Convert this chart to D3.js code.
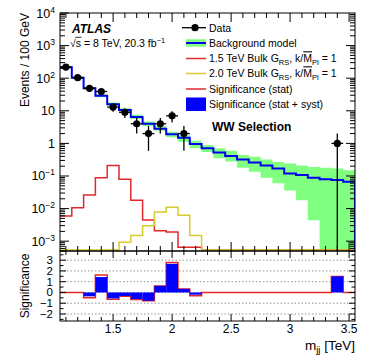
<!DOCTYPE html>
<html>
<head>
<meta charset="utf-8">
<script src="https://cdn.jsdelivr.net/npm/d3@7"></script>
<style>
  body { margin: 0; background: #fff; }
  svg { display: block; font-family: "Liberation Sans", Arial, Helvetica, sans-serif; }
</style>
</head>
<body>
<div id="chart"></div>
<script>
// Bin edges in TeV (100 GeV bins)
const binEdges = [1.05, 1.15, 1.25, 1.35, 1.45, 1.55, 1.65, 1.75, 1.85, 1.95, 2.05, 2.15, 2.25,
  2.35, 2.45, 2.55, 2.65, 2.75, 2.85, 2.95, 3.05, 3.15, 3.25, 3.35, 3.45, 3.55];

// Background model (events / 100 GeV) and its uncertainty band
const bkg = [215, 104, 49, 29, 16, 10.5, 6.5, 4.0, 2.8, 1.9, 1.5, 0.95, 0.71, 0.53, 0.41, 0.32,
  0.26, 0.21, 0.17, 0.12, 0.107, 0.089, 0.079, 0.076, 0.067];
const bkgUp = [235, 114, 54, 32, 18, 12, 7.5, 4.7, 3.42, 2.29, 1.78, 1.2, 0.89, 0.71, 0.59, 0.44,
  0.39, 0.32, 0.27, 0.24, 0.21, 0.19, 0.18, 0.17, 0.15];
const bkgDown = [195, 94, 44, 26, 14.2, 9.3, 5.6, 3.4, 2.45, 1.54, 1.13, 0.71, 0.54, 0.35, 0.28, 0.18,
  0.135, 0.089, 0.060, 0.036, 0.018, 0.0044, 0, 0, 0];

// Signal templates
const sig15 = [0.0059, 0.0107, 0.026, 0.089, 0.21, 0.079, 0.018, 0.0045, 0.0021, 0.0019, 0.00065, 0.00065,
  0, 0, 0, 0, 0, 0, 0, 0, 0, 0, 0, 0, 0];
const sig20 = [0, 0, 0, 0, 0.00055, 0.00093, 0.0015, 0.0030, 0.0078, 0.011, 0.0063, 0.0015,
  0, 0, 0, 0, 0, 0, 0, 0, 0, 0, 0, 0, 0];

// Data points
const dataX = [1.1, 1.2, 1.3, 1.4, 1.5, 1.6, 1.7, 1.8, 1.9, 2.0, 2.1, 3.4];
const dataY = [220, 104, 49, 39, 13, 9, 4, 2, 4, 7, 2, 1];
const dataErr = [14.8, 10.2, 7, 6.2, 3.6, 3, 2, 1.41, 2, 2.65, 1.41, 1];

// Significance per bin
const sigStat = [0, 0, -0.49, 1.62, -0.64, -0.36, -0.66, -0.77, 0.61, 2.78, 0.33, -0.30,
  0, 0, 0, 0, 0, 0, 0, 0, 0, 0, 0, 1.49, 0];
const sigSyst = [0, 0, -0.36, 1.43, -0.55, -0.33, -0.61, -0.77, 0.61, 2.66, 0.33, -0.21,
  0, 0, 0, 0, 0, 0, 0, 0, 0, 0, 0, 1.49, 0];

// Tick labels
const xTicks = [1.5, 2, 2.5, 3, 3.5];
const xTickLabels = ["1.5", "2", "2.5", "3", "3.5"];
const ratioTicks = [-2, -1, 0, 1, 2, 3];
const ratioTickLabels = ["\u22122", "\u22121", "0", "1", "2", "3"];

const width = 374, height = 359;
const left = 60, right = 355;
const mainTop = 13, mainBottom = 251;
const ratioTop = 251, ratioBottom = 321;

const colGreen = "#80ff80", colBlue = "#0000f0", colRed = "#e0282b", colYellow = "#d6cb33";

const svg = d3.select("#chart").append("svg")
  .attr("width", width).attr("height", height);

const x = d3.scaleLinear().domain([1.05, 3.55]).range([left, right]);
const y = d3.scaleLog().domain([5e-4, 1e4]).range([mainBottom, mainTop]);
const r = d3.scaleLinear().domain([-2.65, 3.85]).range([ratioBottom, ratioTop]);

const yc = v => v > 0 ? Math.min(y(v), mainBottom - 1) : mainBottom - 1;
const yb = v => v > 0 ? Math.min(y(v), mainBottom) : mainBottom;

function stepPts(vals) {
  const pts = vals.map((v, i) => [binEdges[i], v]);
  pts.push([binEdges[vals.length], vals[vals.length - 1]]);
  return pts;
}

svg.append("clipPath").attr("id", "clipMain").append("rect")
  .attr("x", left).attr("y", mainTop).attr("width", right - left).attr("height", mainBottom - mainTop);
svg.append("clipPath").attr("id", "clipRatio").append("rect")
  .attr("x", left).attr("y", ratioTop).attr("width", right - left).attr("height", ratioBottom - ratioTop);

const main = svg.append("g").attr("clip-path", "url(#clipMain)");

// Uncertainty band
const bandData = bkg.map((v, i) => [binEdges[i], bkgDown[i], bkgUp[i]]);
bandData.push([3.55, bkgDown[bkgDown.length - 1], bkgUp[bkgUp.length - 1]]);
main.append("path")
  .datum(bandData)
  .attr("fill", colGreen)
  .attr("d", d3.area().x(d => x(d[0])).y0(d => yb(d[1])).y1(d => yb(d[2])).curve(d3.curveStepAfter));

const step = d3.line().x(d => x(d[0])).y(d => yc(d[1])).curve(d3.curveStepAfter);

main.append("path").datum(stepPts(sig15))
  .attr("fill", "none").attr("stroke", colRed).attr("stroke-width", 1.5).attr("d", step);
main.append("path").datum(stepPts(sig20))
  .attr("fill", "none").attr("stroke", colYellow).attr("stroke-width", 1.5).attr("d", step);

const bkgPts = stepPts(bkg);
bkgPts.push([3.55, 0]);
main.append("path").datum(bkgPts)
  .attr("fill", "none").attr("stroke", colBlue).attr("stroke-width", 2).attr("d", step);

// Data with error bars
const pts = main.append("g").selectAll("g").data(dataX).join("g");
pts.append("line")
  .attr("x1", d => x(d)).attr("x2", d => x(d))
  .attr("y1", (d, i) => y(dataY[i] + dataErr[i]))
  .attr("y2", (d, i) => yb(dataY[i] - dataErr[i]))
  .attr("stroke", "#000").attr("stroke-width", 1.3);
pts.append("line")
  .attr("x1", d => x(d - 0.05)).attr("x2", d => x(d + 0.05))
  .attr("y1", (d, i) => y(dataY[i])).attr("y2", (d, i) => y(dataY[i]))
  .attr("stroke", "#000").attr("stroke-width", 1.3);
pts.append("circle")
  .attr("cx", d => x(d)).attr("cy", (d, i) => y(dataY[i]))
  .attr("r", 3.6).attr("fill", "#000");

// Ratio panel
const ratio = svg.append("g").attr("clip-path", "url(#clipRatio)");
ratio.selectAll("line.grid").data(ratioTicks).join("line")
  .attr("x1", left).attr("x2", right)
  .attr("y1", d => r(d)).attr("y2", d => r(d))
  .attr("stroke", "#777").attr("stroke-width", 0.8).attr("stroke-dasharray", "1.5,2");

ratio.append("path").datum(stepPts(sigStat))
  .attr("fill", "none").attr("stroke", colRed).attr("stroke-width", 1.5)
  .attr("d", d3.line().x(d => x(d[0])).y(d => r(d[1])).curve(d3.curveStepAfter));

ratio.selectAll("rect.bar").data(sigSyst).join("rect")
  .attr("x", (d, i) => x(binEdges[i]))
  .attr("width", (d, i) => x(binEdges[i + 1]) - x(binEdges[i]))
  .attr("y", d => Math.min(r(d), r(0)))
  .attr("height", d => Math.abs(r(d) - r(0)))
  .attr("fill", "#0000ff");

// Frames and ticks
function frame(top, bottom) {
  svg.append("rect").attr("x", left).attr("y", top)
    .attr("width", right - left).attr("height", bottom - top)
    .attr("fill", "none").attr("stroke", "#000").attr("stroke-width", 1);
}
frame(mainTop, mainBottom);
frame(ratioTop, ratioBottom);

const axisG = svg.append("g").attr("stroke", "#000").attr("stroke-width", 1);
function xTickMarks(yLine, dir, majLen, minLen) {
  const minors = d3.range(11, 36).map(d => d / 10);
  minors.forEach(t => {
    const isMajor = xTicks.some(m => Math.abs(m - t) < 1e-6);
    const len = isMajor ? majLen : minLen;
    axisG.append("line").attr("x1", x(t)).attr("x2", x(t))
      .attr("y1", yLine).attr("y2", yLine + dir * len);
  });
}
xTickMarks(mainBottom, -1, 9, 5);
xTickMarks(mainTop, 1, 9, 5);
xTickMarks(ratioBottom, -1, 7, 4);
xTickMarks(ratioTop, 1, 7, 4);

// log ticks
for (let e = -4; e <= 3; e++) {
  for (let k = 1; k <= 9; k++) {
    const v = k * Math.pow(10, e);
    if (v < 5e-4 || v > 1e4) continue;
    const len = k === 1 ? 9 : 5;
    axisG.append("line").attr("x1", left).attr("x2", left + len).attr("y1", y(v)).attr("y2", y(v));
    axisG.append("line").attr("x1", right).attr("x2", right - len).attr("y1", y(v)).attr("y2", y(v));
  }
}
axisG.append("line").attr("x1", left).attr("x2", left + 9).attr("y1", y(1e4)).attr("y2", y(1e4));

// ratio y ticks
d3.range(-5, 8).map(d => d / 2).forEach(t => {
  const len = Number.isInteger(t) ? 6 : 3.5;
  if (r(t) < ratioTop || r(t) > ratioBottom) return;
  axisG.append("line").attr("x1", left).attr("x2", left + len).attr("y1", r(t)).attr("y2", r(t));
  axisG.append("line").attr("x1", right).attr("x2", right - len).attr("y1", r(t)).attr("y2", r(t));
});

// Tick labels
const labelG = svg.append("g").attr("fill", "#000");
xTicks.forEach((t, i) => {
  labelG.append("text").attr("x", x(t)).attr("y", 333)
    .attr("text-anchor", "middle").attr("font-size", 12).text(xTickLabels[i]);
});
ratioTicks.forEach((t, i) => {
  labelG.append("text").attr("x", 53).attr("y", r(t) + 4)
    .attr("text-anchor", "end").attr("font-size", 11.5).text(ratioTickLabels[i]);
});
d3.range(-3, 5).forEach(e => {
  const t = labelG.append("text").attr("x", 55).attr("y", y(Math.pow(10, e)) + 4.5)
    .attr("text-anchor", "end").attr("font-size", 12.5);
  if (e === 0) t.text("1");
  else if (e === 1) t.text("10");
  else {
    t.append("tspan").text("10");
    t.append("tspan").attr("font-size", 8.5).attr("dy", -5)
      .text(e < 0 ? "\u2212" + (-e) : String(e));
  }
});

// Axis titles
svg.append("text").attr("transform", "translate(29,13) rotate(-90)")
  .attr("text-anchor", "end").attr("font-size", 12).text("Events / 100 GeV");
svg.append("text").attr("transform", "translate(29,286) rotate(-90)")
  .attr("text-anchor", "middle").attr("font-size", 12).text("Significance");
const xt = svg.append("text").attr("x", 355).attr("y", 350)
  .attr("text-anchor", "end").attr("font-size", 13.5);
xt.append("tspan").text("m");
xt.append("tspan").attr("font-size", 9.5).attr("dy", 3).text("jj");
xt.append("tspan").attr("dy", -3).text(" [TeV]");

// ATLAS label
svg.append("text").attr("x", 72).attr("y", 33)
  .attr("font-size", 12).attr("font-weight", "bold").attr("font-style", "italic").text("ATLAS");
const en = svg.append("text").attr("x", 70).attr("y", 47).attr("font-size", 10.5);
const rad = en.append("tspan").text("\u221A");
const sChar = en.append("tspan").text("s");
en.append("tspan").text(" = 8 TeV, 20.3 fb");
en.append("tspan").attr("font-size", 7.5).attr("dy", -4).text("\u22121");
// radical bar over s
const radW = rad.node().getComputedTextLength();
const sW = sChar.node().getComputedTextLength();
svg.append("line").attr("x1", 70 + radW - 0.5).attr("x2", 70 + radW + sW + 0.5)
  .attr("y1", 37.3).attr("y2", 37.3).attr("stroke", "#000").attr("stroke-width", 0.8);

// Legend
const lx0 = 186, lx1 = 206, ltx = 209;
const leg = svg.append("g");
function legText(yc0, parts) {
  const t = leg.append("text").attr("x", ltx).attr("y", yc0 + 3.8).attr("font-size", 10.5);
  let shift = 0;
  parts.forEach(p => {
    const s = t.append("tspan").text(p.t);
    let want = 0;
    if (p.sub) { s.attr("font-size", 7.5); want = 2.5; }
    if (want !== shift) { s.attr("dy", want - shift); shift = want; }
    if (p.over) s.style("text-decoration", "overline");
  });
}
// Data
leg.append("line").attr("x1", 182).attr("x2", lx1).attr("y1", 27.7).attr("y2", 27.7)
  .attr("stroke", "#000").attr("stroke-width", 1.3);
leg.append("circle").attr("cx", 195).attr("cy", 27.7).attr("r", 3.6).attr("fill", "#000");
legText(27.7, [{ t: "Data" }]);
// Background
leg.append("rect").attr("x", lx0).attr("y", 39.2).attr("width", lx1 - lx0).attr("height", 7.5).attr("fill", colGreen);
leg.append("line").attr("x1", lx0).attr("x2", lx1).attr("y1", 43).attr("y2", 43)
  .attr("stroke", colBlue).attr("stroke-width", 2);
legText(43, [{ t: "Background model" }]);
// signals
leg.append("line").attr("x1", lx0).attr("x2", lx1).attr("y1", 58.5).attr("y2", 58.5)
  .attr("stroke", colRed).attr("stroke-width", 1.5);
legText(58.5, [{ t: "1.5 TeV Bulk G" }, { t: "RS", sub: true }, { t: ", k/" }, { t: "M", over: true }, { t: "Pl", sub: true }, { t: " = 1" }]);
leg.append("line").attr("x1", lx0).attr("x2", lx1).attr("y1", 73.5).attr("y2", 73.5)
  .attr("stroke", colYellow).attr("stroke-width", 1.5);
legText(73.5, [{ t: "2.0 TeV Bulk G" }, { t: "RS", sub: true }, { t: ", k/" }, { t: "M", over: true }, { t: "Pl", sub: true }, { t: " = 1" }]);
leg.append("line").attr("x1", lx0).attr("x2", lx1).attr("y1", 89).attr("y2", 89)
  .attr("stroke", colRed).attr("stroke-width", 1.5);
legText(89, [{ t: "Significance (stat)" }]);
leg.append("rect").attr("x", lx0).attr("y", 97.5).attr("width", lx1 - lx0).attr("height", 13.5).attr("fill", "#0000ff");
legText(104.3, [{ t: "Significance (stat + syst)" }]);

svg.append("text").attr("x", 212).attr("y", 131)
  .attr("font-size", 12).attr("font-weight", "bold").text("WW Selection");
</script>
</body>
</html>
